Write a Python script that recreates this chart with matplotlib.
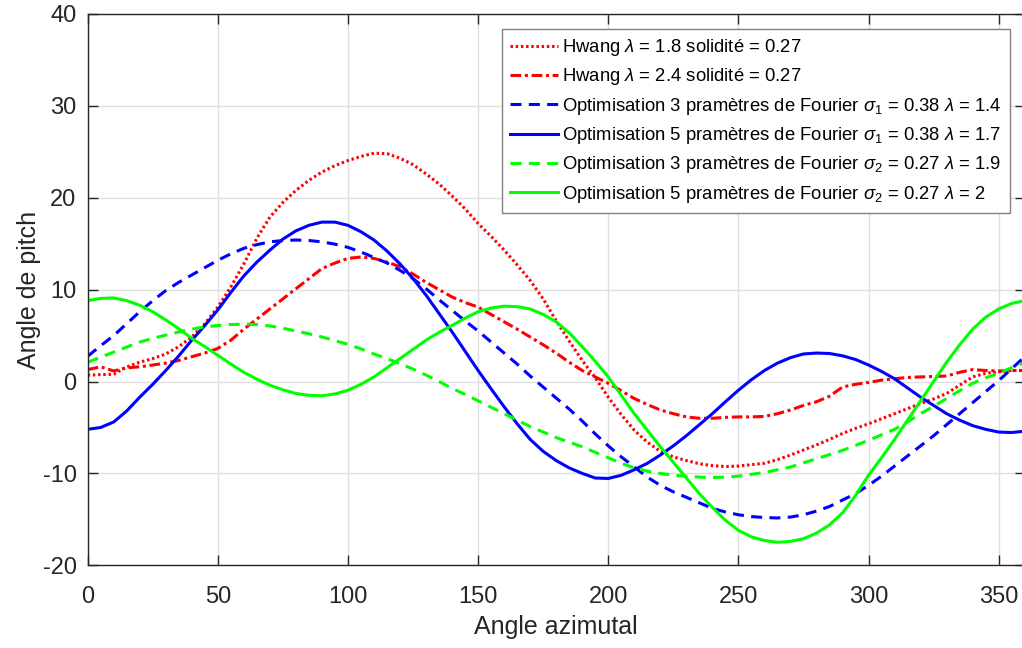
import numpy as np
import matplotlib.pyplot as plt

plt.rcParams['font.family'] = ['Liberation Sans', 'DejaVu Sans']
plt.rcParams['mathtext.fontset'] = 'custom'
plt.rcParams['mathtext.rm'] = 'Liberation Sans'
plt.rcParams['mathtext.it'] = 'Liberation Sans:italic'
plt.rcParams['axes.unicode_minus'] = False

# angle azimutal (deg), un point tous les 5 degres
angle = list(range(0, 361, 5))

# Hwang, lambda = 1.8, solidite 0.27
hwang_18 = [0.7, 0.75, 0.8, 1.6, 2.1, 2.5, 3.0, 3.8, 4.85, 6.3, 8.1, 10.3,
            12.8, 15.6, 17.9, 19.5, 20.8, 21.9, 22.8, 23.5, 24.05, 24.5, 24.85, 24.8,
            24.3, 23.6, 22.6, 21.5, 20.2, 18.8, 17.2, 15.8, 14.3, 12.7, 11.0, 9.0,
            6.6, 4.4, 2.3, 0.4, -1.7, -3.6, -5.3, -6.6, -7.6, -8.2, -8.6, -8.95,
            -9.15, -9.25, -9.2, -9.05, -8.9, -8.5, -8.0, -7.45, -6.9, -6.3, -5.65, -5.1,
            -4.6, -4.05, -3.5, -2.95, -2.4, -1.9, -1.3, -0.4, 0.5, 0.9, 1.05, 1.2,
            1.2]
# Hwang, lambda = 2.4, solidite 0.27
hwang_24 = [1.3, 1.6, 1.15, 1.5, 1.6, 1.8, 2.0, 2.3, 2.7, 3.1, 3.6, 4.5,
            5.7, 6.8, 7.9, 9.0, 10.1, 11.2, 12.3, 12.9, 13.4, 13.55, 13.4, 13.0,
            12.5, 11.7, 10.8, 10.0, 9.2, 8.6, 8.1, 7.3, 6.5, 5.7, 4.85, 4.0,
            3.1, 2.1, 1.2, 0.5, -0.2, -1.0, -1.85, -2.5, -3.1, -3.5, -3.85, -4.0,
            -4.0, -3.9, -3.85, -3.85, -3.8, -3.5, -3.1, -2.6, -2.2, -1.6, -0.6, -0.3,
            -0.1, 0.15, 0.3, 0.45, 0.5, 0.55, 0.6, 1.0, 1.3, 1.2, 1.15, 1.2,
            1.2]
# optimisation 3 parametres, sigma1
opt3_s1 = [2.75, 3.9, 5.0, 6.3, 7.6, 8.8, 9.9, 10.8, 11.6, 12.4, 13.2, 13.9,
           14.5, 14.9, 15.2, 15.35, 15.4, 15.35, 15.2, 14.95, 14.6, 14.1, 13.5, 12.9,
           12.1, 11.2, 10.1, 8.9, 7.75, 6.6, 5.5, 4.3, 3.1, 1.9, 0.6, -0.6,
           -1.8, -3.0, -4.3, -5.7, -7.0, -8.2, -9.3, -10.4, -11.3, -12.0, -12.6, -13.2,
           -13.8, -14.2, -14.5, -14.7, -14.8, -14.85, -14.75, -14.5, -14.1, -13.6, -12.9, -12.2,
           -11.3, -10.3, -9.2, -8.1, -7.0, -5.9, -4.7, -3.5, -2.3, -1.1, 0.1, 1.4,
           2.7]
# optimisation 5 parametres, sigma1
opt5_s1 = [-5.2, -5.0, -4.4, -3.2, -1.7, -0.3, 1.2, 2.8, 4.5, 6.1, 7.8, 9.7,
           11.5, 13.0, 14.3, 15.5, 16.4, 17.0, 17.35, 17.35, 17.0, 16.3, 15.4, 14.2,
           12.8, 11.2, 9.4, 7.4, 5.4, 3.3, 1.2, -0.8, -2.75, -4.6, -6.3, -7.6,
           -8.6, -9.4, -10.0, -10.5, -10.55, -10.2, -9.6, -8.9, -8.0, -7.0, -5.9, -4.7,
           -3.5, -2.2, -0.95, 0.2, 1.2, 2.0, 2.6, 3.0, 3.1, 3.05, 2.8, 2.4,
           1.8, 1.1, 0.3, -0.7, -1.7, -2.6, -3.5, -4.2, -4.8, -5.2, -5.5, -5.55,
           -5.4]
# optimisation 3 parametres, sigma2
opt3_s2 = [2.1, 2.65, 3.2, 3.75, 4.3, 4.7, 5.05, 5.4, 5.7, 5.95, 6.1, 6.2,
           6.25, 6.2, 6.05, 5.8, 5.5, 5.2, 4.85, 4.45, 4.05, 3.55, 3.0, 2.5,
           1.95, 1.35, 0.7, 0.0, -0.75, -1.4, -2.1, -2.8, -3.5, -4.2, -4.9, -5.5,
           -6.1, -6.6, -7.1, -7.7, -8.3, -8.9, -9.4, -9.75, -10.0, -10.2, -10.3, -10.4,
           -10.45, -10.4, -10.3, -10.1, -9.9, -9.6, -9.3, -8.85, -8.4, -7.95, -7.5, -6.95,
           -6.4, -5.8, -5.2, -4.4, -3.5, -2.7, -1.85, -1.0, -0.2, 0.4, 0.9, 1.5,
           2.1]
# optimisation 5 parametres, sigma2
opt5_s2 = [8.8, 9.05, 9.1, 8.8, 8.3, 7.6, 6.7, 5.75, 4.7, 3.8, 2.85, 1.9,
           1.0, 0.25, -0.4, -0.9, -1.3, -1.5, -1.55, -1.35, -0.95, -0.3, 0.5, 1.5,
           2.5, 3.5, 4.5, 5.35, 6.1, 6.9, 7.6, 8.0, 8.2, 8.15, 7.9, 7.3,
           6.5, 5.3, 3.8, 2.2, 0.5, -1.5, -3.5, -5.3, -7.1, -8.8, -10.5, -12.2,
           -13.7, -15.1, -16.2, -16.9, -17.3, -17.5, -17.4, -17.1, -16.5, -15.6, -14.3, -12.4,
           -10.2, -8.3, -6.3, -4.2, -2.1, 0.0, 2.1, 4.0, 5.7, 7.0, 7.9, 8.5,
           8.8]

fig = plt.figure(figsize=(10.22, 6.48), dpi=100)
ax = fig.add_axes([87.7 / 1022, 1 - 565.3 / 648, 937 / 1022, 551.3 / 648])

lw = 2.2
ax.plot(angle, hwang_18, color='red', lw=lw, linestyle=(0, (0.8, 0.9)),
        label=r'Hwang $\lambda$ = 1.8 solidité = 0.27')
ax.plot(angle, hwang_24, color='red', lw=lw, linestyle=(0, (3.5, 1.2, 1.0, 1.2)),
        label=r'Hwang $\lambda$ = 2.4 solidité = 0.27')
ax.plot(angle, opt3_s1, color='blue', lw=lw, linestyle=(0, (3.6, 2.4)),
        label=r'Optimisation 3 pramètres de Fourier $\sigma_1$ = 0.38 $\lambda$ = 1.4')
ax.plot(angle, opt5_s1, color='blue', lw=lw,
        label=r'Optimisation 5 pramètres de Fourier $\sigma_1$ = 0.38 $\lambda$ = 1.7')
ax.plot(angle, opt3_s2, color='#00ff00', lw=lw, linestyle=(0, (3.6, 2.4)),
        label=r'Optimisation 3 pramètres de Fourier $\sigma_2$ = 0.27 $\lambda$ = 1.9')
ax.plot(angle, opt5_s2, color='#00ff00', lw=lw,
        label=r'Optimisation 5 pramètres de Fourier $\sigma_2$ = 0.27 $\lambda$ = 2')

ax.set_xlim(0, 360)
ax.set_ylim(-20, 40)
ax.set_xticks(range(0, 361, 50))
ax.set_yticks(range(-20, 41, 10))
ax.grid(True, color='#dfdfdf', lw=1)
ax.set_axisbelow(True)

for s in ax.spines.values():
    s.set_color('#262626')
    s.set_linewidth(1)
ax.tick_params(direction='in', length=7, width=1, color='#262626', labelcolor='#262626',
               labelsize=17, top=True, right=True)
ax.tick_params(axis='x', pad=15)
ax.tick_params(axis='y', pad=8)

ax.set_xlabel('Angle azimutal', fontsize=18, color='#262626', labelpad=5)
ax.set_ylabel('Angle de pitch', fontsize=18, color='#262626', labelpad=1)

leg = ax.legend(loc='upper right', fontsize=13.3, fancybox=False, framealpha=1,
                edgecolor='#808080', handlelength=2.6, handletextpad=0.2,
                borderaxespad=0.8, borderpad=0.45, labelspacing=0.45)
leg.get_frame().set_linewidth(1)

fig.savefig('out.png', dpi=100)
